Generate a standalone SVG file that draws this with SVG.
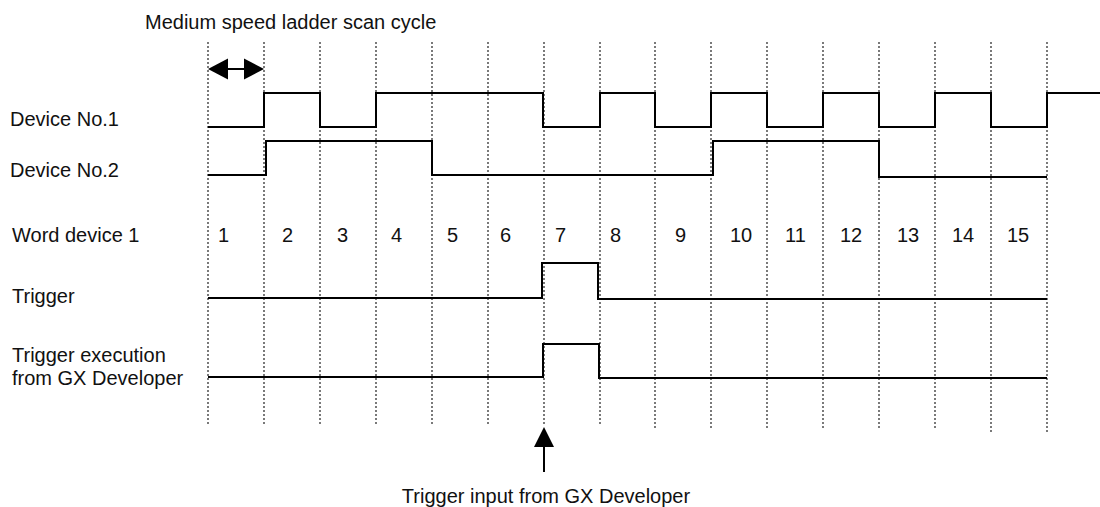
<svg xmlns="http://www.w3.org/2000/svg" width="1100" height="507" viewBox="0 0 1100 507">
<style>
text{font-family:"Liberation Sans",Arial,sans-serif;font-size:20px;fill:#111}
.grid{stroke:#333;stroke-width:1.3;stroke-dasharray:2 2;fill:none}
.sig{stroke:#000;stroke-width:2;fill:none}
.arr{fill:#000}
</style>
<rect width="1100" height="507" fill="#fff"/>
<g id="grid">
<line class="grid" x1="208" y1="42" x2="208" y2="425"/>
<line class="grid" x1="264" y1="42" x2="264" y2="425"/>
<line class="grid" x1="320" y1="42" x2="320" y2="425"/>
<line class="grid" x1="376" y1="42" x2="376" y2="425"/>
<line class="grid" x1="432" y1="42" x2="432" y2="425"/>
<line class="grid" x1="488" y1="42" x2="488" y2="425"/>
<line class="grid" x1="544" y1="42" x2="544" y2="425"/>
<line class="grid" x1="600" y1="42" x2="600" y2="425"/>
<line class="grid" x1="655" y1="42" x2="655" y2="428"/>
<line class="grid" x1="711" y1="42" x2="711" y2="428"/>
<line class="grid" x1="767" y1="42" x2="767" y2="428"/>
<line class="grid" x1="823" y1="42" x2="823" y2="428"/>
<line class="grid" x1="879" y1="42" x2="879" y2="428"/>
<line class="grid" x1="935" y1="42" x2="935" y2="428"/>
<line class="grid" x1="991" y1="42" x2="991" y2="432"/>
<line class="grid" x1="1047" y1="42" x2="1047" y2="432"/>
</g>
<g id="title"><text x="145" y="29">Medium speed ladder scan cycle</text></g>
<g id="cycle-arrow">
<line class="sig" x1="226" y1="69" x2="246" y2="69"/>
<polygon class="arr" points="208,69 228,58.5 228,79.5"/>
<polygon class="arr" points="264,69 244,58.5 244,79.5"/>
</g>
<g id="device1">
<text x="10" y="126">Device No.1</text>
<polyline class="sig" points="208,127 264,127 264,93 320,93 320,127 376,127 376,93 543,93 543,127 600,127 600,93 655,93 655,127 711,127 711,93 767,93 767,127 823,127 823,93 879,93 879,127 935,127 935,93 991,93 991,127 1047,127 1047,93 1100,93"/>
</g>
<g id="device2">
<text x="10" y="177">Device No.2</text>
<polyline class="sig" points="208,175 266,175 266,141 432,141 432,175 713,175 713,141 879,141 879,177 1047,177"/>
</g>
<g id="word-device">
<text x="12" y="242">Word device 1</text>
<text x="218" y="242">1</text>
<text x="282" y="242">2</text>
<text x="337" y="242">3</text>
<text x="391" y="242">4</text>
<text x="447" y="242">5</text>
<text x="500" y="242">6</text>
<text x="555" y="242">7</text>
<text x="610" y="242">8</text>
<text x="675" y="242">9</text>
<text x="730" y="242">10</text>
<text x="785" y="242">11</text>
<text x="840" y="242">12</text>
<text x="897" y="242">13</text>
<text x="952" y="242">14</text>
<text x="1007" y="242">15</text>
</g>
<g id="trigger">
<text x="12" y="303">Trigger</text>
<polyline class="sig" points="208,298 542,298 542,263 598,263 598,299 1047,299"/>
</g>
<g id="trigger-exec">
<text x="12" y="362">Trigger execution</text>
<text x="12" y="385">from GX Developer</text>
<polyline class="sig" points="208,377 543,377 543,344 599,344 599,378 1047,378"/>
</g>
<g id="connectors">
<line class="sig" x1="544" y1="444" x2="544" y2="472"/>
<polygon class="arr" points="544,427 554,447 534,447"/>
</g>
<g id="input-label"><text x="546" y="503" text-anchor="middle">Trigger input from GX Developer</text></g>
</svg>
